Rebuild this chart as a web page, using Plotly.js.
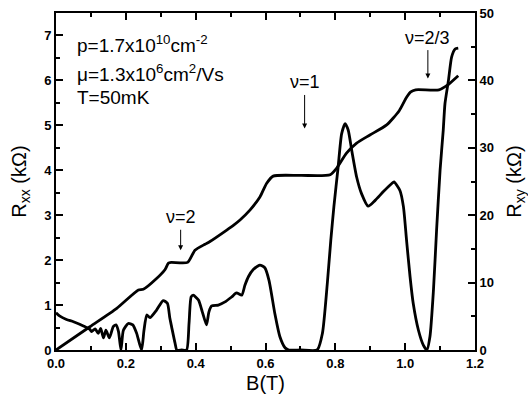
<!DOCTYPE html>
<html>
<head>
<meta charset="utf-8">
<script src="https://cdn.plot.ly/plotly-3.0.1.min.js"></script>
<style>html,body{margin:0;padding:0;background:#fff;}#chart{width:528px;height:398px;}</style>
</head>
<body>
<div id="chart"></div>
<script>
// Longitudinal resistance Rxx (kOhm) vs B (T)
const bRxx = [0, 0.01, 0.03, 0.05, 0.08, 0.097, 0.102, 0.112, 0.121, 0.128, 0.136, 0.143, 0.153, 0.164, 0.172, 0.179, 0.186, 0.193, 0.207, 0.22, 0.231, 0.245, 0.252, 0.26, 0.269, 0.288, 0.307, 0.319, 0.326, 0.331, 0.341, 0.346, 0.36, 0.374, 0.381, 0.387, 0.393, 0.408, 0.419, 0.431, 0.438, 0.446, 0.465, 0.484, 0.503, 0.517, 0.532, 0.541, 0.551, 0.565, 0.584, 0.598, 0.61, 0.627, 0.641, 0.656, 0.667, 0.70, 0.748, 0.763, 0.777, 0.787, 0.796, 0.808, 0.818, 0.828, 0.837, 0.847, 0.861, 0.875, 0.894, 0.914, 0.937, 0.961, 0.968, 0.985, 0.995, 1.004, 1.014, 1.023, 1.038, 1.052, 1.062, 1.071, 1.081, 1.090, 1.100, 1.109, 1.114, 1.124, 1.133, 1.143, 1.152];
const rxx = [0.83, 0.76, 0.68, 0.63, 0.53, 0.46, 0.41, 0.47, 0.37, 0.48, 0.27, 0.44, 0.27, 0.52, 0.56, 0.41, 0.0, 0.44, 0.59, 0.56, 0.37, 0.0, 0.44, 0.78, 0.72, 0.89, 1.10, 1.04, 0.71, 0.52, 0.15, 0.0, 0.0, 0.0, 0.59, 1.18, 1.22, 1.11, 0.85, 0.56, 0.85, 0.98, 1.0, 1.07, 1.18, 1.27, 1.22, 1.44, 1.63, 1.79, 1.89, 1.83, 1.55, 0.8, 0.3, 0.05, 0.0, 0.0, 0.0, 0.37, 1.48, 2.44, 3.2, 4.07, 4.81, 5.04, 4.89, 4.44, 3.85, 3.48, 3.2, 3.33, 3.52, 3.70, 3.74, 3.55, 3.19, 2.44, 1.63, 1.04, 0.44, 0.11, 0.0, 0.3, 1.33, 2.67, 4.0, 4.89, 5.48, 6.0, 6.52, 6.70, 6.72];

// Hall resistance Rxy (kOhm) vs B (T)
const bRxy = [0, 0.097, 0.174, 0.236, 0.25, 0.288, 0.312, 0.322, 0.33, 0.377, 0.398, 0.427, 0.441, 0.489, 0.508, 0.527, 0.556, 0.584, 0.603, 0.622, 0.70, 0.785, 0.804, 0.832, 0.861, 0.899, 0.947, 0.983, 1.004, 1.016, 1.03, 1.097, 1.121, 1.152];
const rxy = [0, 3.45, 6.18, 8.9, 9.0, 10.6, 11.9, 12.9, 13.0, 13.0, 14.8, 15.7, 16.1, 17.8, 18.5, 19.3, 20.8, 22.7, 24.7, 25.8, 25.9, 26.0, 27.0, 29.2, 30.7, 31.9, 33.4, 35.5, 37.5, 38.3, 38.6, 38.6, 39.3, 40.7];

// Filling-factor markers: label, B of arrow, Rxx at arrow tip, label offset above tip (px)
const nuLabels = ["ν=2", "ν=1", "ν=2/3"];
const nuB = [0.357, 0.712, 1.065];
const nuTip = [2.22, 4.93, 6.04];
const nuTextOffset = [33, 46, 41];

const infoLines = ["p=1.7x10<sup>10</sup>cm<sup>-2</sup>", "μ=1.3x10<sup>6</sup>cm<sup>2</sup>/Vs", "T=50mK"];
const infoY = [6.82, 6.16, 5.62];

const FONT = "Liberation Sans, Arial, sans-serif";
const PAD = '\u00a0'.repeat(7);

const traces = [
  {x: bRxx, y: rxx, type: 'scatter', mode: 'lines', name: 'Rxx',
   line: {color: '#000', width: 2.8, shape: 'spline', smoothing: 0.6}, yaxis: 'y'},
  {x: bRxy, y: rxy, type: 'scatter', mode: 'lines', name: 'Rxy',
   line: {color: '#000', width: 2.8, shape: 'spline', smoothing: 0.6}, yaxis: 'y2'}
];

const annotations = [];
for (let i = 0; i < nuLabels.length; i++) {
  annotations.push({x: nuB[i], y: nuTip[i], xref: 'x', yref: 'y', text: nuLabels[i], showarrow: true,
    axref: 'pixel', ayref: 'pixel', ax: 0, ay: -nuTextOffset[i], startstandoff: 2,
    arrowhead: 2, arrowsize: 1, arrowwidth: 1, arrowcolor: '#000', borderpad: 0,
    font: {family: FONT, size: 18, color: '#000'}});
}
for (let i = 0; i < infoLines.length; i++) {
  annotations.push({x: 0.054, y: infoY[i], xref: 'x', yref: 'y', text: infoLines[i], xanchor: 'left',
    showarrow: false, font: {family: FONT, size: 19, color: '#000'}});
}

const tickFont = {family: FONT, size: 13, color: '#000', weight: 'bold'};
const layout = {
  width: 528, height: 398,
  margin: {l: 56, r: 53, t: 13, b: 48},
  paper_bgcolor: '#fff', plot_bgcolor: '#fff',
  showlegend: false,
  font: {family: FONT, color: '#000'},
  xaxis: {range: [0, 1.2], dtick: 0.2, tickformat: '.1f', ticks: 'inside', ticklen: 7, tickwidth: 1.5,
    tickcolor: '#000', showline: true, linecolor: '#000', linewidth: 2, mirror: 'ticks',
    showgrid: false, zeroline: false, tickfont: tickFont,
    minor: {dtick: 0.1, ticks: 'inside', ticklen: 4, tickwidth: 1.5, tickcolor: '#000'},
    title: {text: 'B(T)', font: {family: FONT, size: 20, color: '#000'}, standoff: 6}},
  yaxis: {range: [0, 7.5], dtick: 1, ticks: 'inside', ticklen: 7, tickwidth: 1.5, tickcolor: '#000',
    showline: true, linecolor: '#000', linewidth: 2, showgrid: false, zeroline: false, tickfont: tickFont,
    minor: {dtick: 0.5, ticks: 'inside', ticklen: 4, tickwidth: 1.5, tickcolor: '#000'},
    title: {text: 'R<sub>xx</sub> (kΩ)' + PAD, font: {family: FONT, size: 20, color: '#000'}, standoff: 12}},
  yaxis2: {range: [0, 50], dtick: 10, overlaying: 'y', side: 'right', ticks: 'inside', ticklen: 7,
    tickwidth: 1.5, tickcolor: '#000', showline: true, linecolor: '#000', linewidth: 2, showgrid: false,
    zeroline: false, tickfont: tickFont,
    minor: {dtick: 5, ticks: 'inside', ticklen: 4, tickwidth: 1.5, tickcolor: '#000'},
    title: {text: 'R<sub>xy</sub> (kΩ)', font: {family: FONT, size: 20, color: '#000'}, standoff: 18}},
  annotations: annotations
};

Plotly.newPlot('chart', traces, layout, {displayModeBar: false});
</script>
</body>
</html>
